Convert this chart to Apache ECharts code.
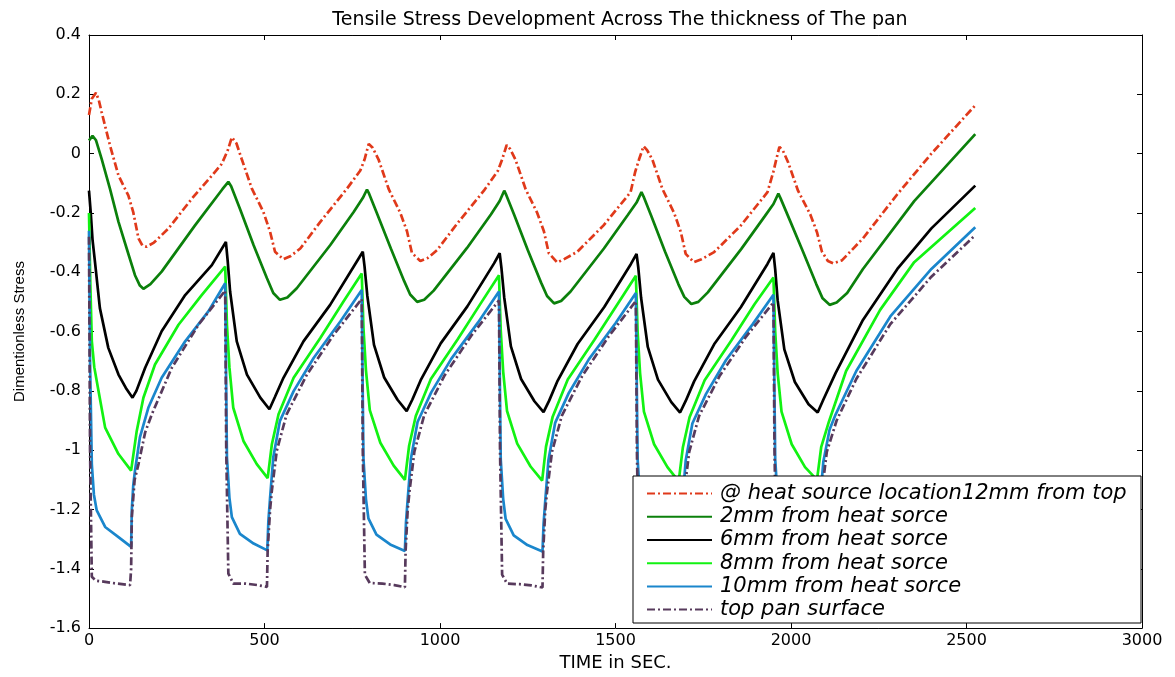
<!DOCTYPE html>
<html>
<head>
<meta charset="utf-8">
<script src="https://cdn.jsdelivr.net/npm/echarts@6/dist/echarts.min.js"></script>
<style>
  html, body { margin: 0; padding: 0; background: #fff; }
  #chart { width: 1175px; height: 677px; }
</style>
</head>
<body>
<div id="chart"></div>
<script>
// Time axis (seconds) and stress axis ticks
const timeTicks = { min: 0, max: 3000, interval: 500 };
const stressTicks = { min: -1.6, max: 0.4, interval: 0.2 };

const seriesNames = [
  '@ heat source location12mm from top',
  '2mm from heat sorce',
  '6mm from heat sorce',
  '8mm from heat sorce',
  '10mm from heat sorce',
  'top pan surface'
];

// [time, dimensionless stress] at the heat source
const heatSource = [
  [0,0.13],[8,0.185],[20,0.205],[28,0.18],[36,0.14],[60,0.027],[84,-0.074],[112,-0.141],
  [126,-0.197],[141,-0.286],[152,-0.31],[164,-0.314],[185,-0.3],[226,-0.253],[293,-0.152],
  [350,-0.074],[378,-0.035],[395,0.01],[407,0.055],[420,0.035],[435,-0.018],[464,-0.118],
  [497,-0.197],[516,-0.264],[530,-0.331],[554,-0.356],[575,-0.345],[602,-0.32],[659,-0.23],
  [735,-0.118],[773,-0.057],[785,-0.02],[797,0.033],[808,0.02],[825,-0.02],[854,-0.12],
  [887,-0.2],[906,-0.262],[920,-0.335],[944,-0.362],[965,-0.352],[992,-0.325],[1049,-0.236],
  [1125,-0.125],[1165,-0.058],[1177,-0.02],[1190,0.029],[1200,0.015],[1215,-0.02],[1244,-0.12],
  [1277,-0.2],[1296,-0.262],[1310,-0.336],[1334,-0.367],[1355,-0.355],[1391,-0.331],[1466,-0.242],
  [1543,-0.13],[1556,-0.062],[1567,-0.02],[1580,0.025],[1590,0.012],[1605,-0.02],[1634,-0.12],
  [1667,-0.2],[1686,-0.264],[1700,-0.338],[1723,-0.366],[1745,-0.356],[1781,-0.332],[1856,-0.244],
  [1933,-0.13],[1950,-0.06],[1958,-0.02],[1967,0.023],[1977,0.01],[1992,-0.03],[2020,-0.125],
  [2055,-0.205],[2074,-0.265],[2088,-0.33],[2105,-0.362],[2120,-0.37],[2145,-0.36],[2205,-0.286],
  [2303,-0.137],[2400,0.0],[2525,0.163]
];

// 2 mm from the heat source
const mm2 = [
  [0,0.044],[10,0.06],[20,0.045],[36,-0.018],[60,-0.12],[84,-0.23],[110,-0.33],[131,-0.41],
  [145,-0.445],[155,-0.456],[175,-0.44],[207,-0.398],[302,-0.242],[380,-0.12],[397,-0.095],
  [405,-0.11],[430,-0.186],[469,-0.309],[507,-0.42],[525,-0.47],[544,-0.493],[565,-0.485],
  [592,-0.454],[687,-0.309],[754,-0.197],[780,-0.15],[792,-0.121],[798,-0.135],[820,-0.2],
  [860,-0.32],[898,-0.43],[915,-0.475],[935,-0.5],[955,-0.493],[982,-0.462],[1077,-0.318],
  [1145,-0.205],[1170,-0.16],[1183,-0.125],[1189,-0.14],[1211,-0.205],[1250,-0.325],[1288,-0.435],
  [1305,-0.48],[1325,-0.505],[1345,-0.497],[1372,-0.465],[1467,-0.32],[1535,-0.207],[1560,-0.165],
  [1574,-0.13],[1580,-0.145],[1602,-0.21],[1641,-0.33],[1679,-0.44],[1696,-0.483],[1716,-0.507],
  [1736,-0.5],[1763,-0.468],[1858,-0.322],[1926,-0.21],[1950,-0.17],[1964,-0.135],[1970,-0.15],
  [1995,-0.22],[2034,-0.33],[2072,-0.44],[2090,-0.488],[2110,-0.51],[2130,-0.502],[2160,-0.47],
  [2205,-0.389],[2351,-0.16],[2525,0.066]
];

// 6 mm from the heat source
const mm6 = [
  [0,-0.125],[5,-0.2],[10,-0.29],[17,-0.365],[31,-0.521],[55,-0.655],[84,-0.745],[105,-0.79],
  [124,-0.823],[135,-0.8],[160,-0.722],[207,-0.599],[274,-0.477],[350,-0.376],[390,-0.298],
  [395,-0.36],[402,-0.465],[421,-0.633],[450,-0.745],[488,-0.823],[514,-0.862],[530,-0.82],
  [554,-0.756],[611,-0.633],[687,-0.51],[763,-0.364],[780,-0.331],[785,-0.38],[793,-0.48],
  [812,-0.645],[841,-0.755],[879,-0.83],[905,-0.868],[921,-0.83],[945,-0.764],[1002,-0.64],
  [1078,-0.515],[1154,-0.37],[1170,-0.336],[1175,-0.385],[1183,-0.485],[1202,-0.65],[1231,-0.76],
  [1269,-0.835],[1295,-0.872],[1311,-0.833],[1335,-0.766],[1392,-0.642],[1468,-0.517],[1544,-0.372],
  [1560,-0.338],[1565,-0.385],[1573,-0.487],[1592,-0.652],[1621,-0.762],[1659,-0.838],[1684,-0.873],
  [1700,-0.834],[1724,-0.768],[1781,-0.643],[1857,-0.518],[1933,-0.372],[1950,-0.335],[1955,-0.39],
  [1962,-0.495],[1981,-0.66],[2011,-0.77],[2050,-0.845],[2076,-0.873],[2092,-0.83],[2127,-0.74],
  [2205,-0.561],[2303,-0.389],[2400,-0.252],[2525,-0.108]
];

// 8 mm from the heat source
const mm8 = [
  [0,-0.2],[4,-0.45],[8,-0.632],[15,-0.72],[27,-0.8],[46,-0.924],[84,-1.013],[120,-1.069],
  [136,-0.935],[155,-0.823],[188,-0.711],[255,-0.577],[321,-0.477],[388,-0.381],[393,-0.577],
  [400,-0.72],[411,-0.857],[440,-0.969],[478,-1.047],[509,-1.094],[521,-0.98],[540,-0.879],
  [583,-0.756],[659,-0.622],[725,-0.499],[777,-0.404],[782,-0.59],[789,-0.73],[800,-0.865],
  [830,-0.975],[868,-1.052],[900,-1.1],[912,-0.985],[931,-0.885],[974,-0.76],[1050,-0.627],
  [1116,-0.505],[1168,-0.41],[1173,-0.595],[1180,-0.735],[1191,-0.868],[1220,-0.978],[1258,-1.055],
  [1291,-1.103],[1302,-0.988],[1321,-0.887],[1364,-0.762],[1440,-0.628],[1506,-0.507],[1558,-0.412],
  [1563,-0.6],[1570,-0.74],[1581,-0.87],[1610,-0.98],[1648,-1.057],[1680,-1.105],[1692,-0.99],
  [1711,-0.889],[1754,-0.764],[1830,-0.63],[1896,-0.508],[1950,-0.418],[1955,-0.6],[1962,-0.74],
  [1973,-0.87],[2002,-0.98],[2040,-1.057],[2074,-1.1],[2086,-0.99],[2108,-0.904],[2157,-0.733],
  [2254,-0.527],[2351,-0.366],[2525,-0.183]
];

// 10 mm from the heat source
const mm10 = [
  [0,-0.26],[3,-0.7],[8,-1.047],[14,-1.15],[22,-1.203],[46,-1.259],[84,-1.293],[120,-1.326],
  [122,-1.2],[126,-1.12],[131,-1.069],[145,-0.957],[169,-0.857],[207,-0.756],[274,-0.633],
  [340,-0.532],[388,-0.437],[391,-0.8],[393,-1.024],[400,-1.16],[407,-1.226],[430,-1.282],
  [469,-1.315],[508,-1.338],[511,-1.24],[516,-1.159],[525,-1.024],[544,-0.901],[583,-0.801],
  [640,-0.689],[716,-0.566],[777,-0.46],[780,-0.82],[782,-1.03],[789,-1.165],[796,-1.23],
  [819,-1.285],[858,-1.318],[900,-1.34],[903,-1.245],[908,-1.165],[917,-1.03],[936,-0.905],
  [975,-0.805],[1032,-0.692],[1108,-0.57],[1168,-0.465],[1171,-0.82],[1173,-1.03],[1180,-1.165],
  [1187,-1.232],[1210,-1.287],[1249,-1.32],[1292,-1.342],[1295,-1.25],[1300,-1.168],[1309,-1.033],
  [1328,-0.908],[1367,-0.807],[1424,-0.694],[1500,-0.572],[1558,-0.47],[1561,-0.82],[1563,-1.03],
  [1570,-1.165],[1577,-1.233],[1600,-1.288],[1639,-1.32],[1683,-1.342],[1686,-1.25],[1691,-1.17],
  [1700,-1.035],[1719,-0.91],[1758,-0.81],[1815,-0.696],[1891,-0.575],[1950,-0.476],[1953,-0.82],
  [1955,-1.03],[1962,-1.165],[1969,-1.233],[1992,-1.288],[2031,-1.32],[2075,-1.342],[2078,-1.25],
  [2083,-1.17],[2092,-1.04],[2110,-0.93],[2127,-0.88],[2186,-0.733],[2283,-0.549],[2400,-0.389],
  [2525,-0.248]
];

// Top surface of the pan
const topSurface = [
  [0,-0.28],[3,-1.0],[8,-1.427],[20,-1.44],[46,-1.444],[80,-1.45],[117,-1.455],[120,-1.4],
  [122,-1.226],[130,-1.1],[141,-1.047],[160,-0.94],[179,-0.879],[236,-0.722],[312,-0.577],
  [388,-0.462],[391,-1.0],[397,-1.416],[411,-1.45],[447,-1.45],[480,-1.455],[507,-1.461],
  [509,-1.338],[516,-1.2],[521,-1.136],[535,-1.002],[563,-0.879],[621,-0.745],[697,-0.611],
  [777,-0.49],[780,-1.0],[786,-1.42],[800,-1.448],[836,-1.45],[870,-1.455],[900,-1.462],
  [902,-1.34],[908,-1.2],[913,-1.14],[927,-1.005],[955,-0.882],[1013,-0.748],[1089,-0.614],
  [1168,-0.495],[1171,-1.0],[1177,-1.42],[1191,-1.45],[1227,-1.452],[1260,-1.456],[1292,-1.463],
  [1294,-1.34],[1300,-1.2],[1305,-1.14],[1319,-1.006],[1347,-0.884],[1405,-0.75],[1481,-0.616],
  [1558,-0.497],[1561,-1.0],[1567,-1.42],[1581,-1.45],[1617,-1.452],[1650,-1.456],[1683,-1.463],
  [1685,-1.34],[1691,-1.2],[1696,-1.14],[1710,-1.006],[1738,-0.885],[1796,-0.751],[1872,-0.617],
  [1950,-0.502],[1953,-1.0],[1959,-1.42],[1973,-1.45],[2009,-1.452],[2042,-1.456],[2075,-1.463],
  [2077,-1.34],[2083,-1.2],[2088,-1.14],[2102,-1.006],[2130,-0.9],[2186,-0.76],[2283,-0.575],
  [2400,-0.415],[2525,-0.275]
];

const seriesData = [heatSource, mm2, mm6, mm8, mm10, topSurface];
const seriesColors = ['#e0391a', '#0b800b', '#000000', '#12f212', '#1a86cc', '#573a5c'];
const dashDot = [8, 3, 2, 3];
const lineTypes = [dashDot, 'solid', 'solid', 'solid', 'solid', dashDot];

const chart = echarts.init(document.getElementById('chart'), null, { renderer: 'canvas' });

const axisColor = '#000';
const tickFont = { fontFamily: 'DejaVu Sans', fontSize: 16, color: '#000' };
const boxLine = { show: true, onZero: false, lineStyle: { color: axisColor, width: 1 } };
const inTicks = { show: true, inside: true, length: 5, lineStyle: { color: axisColor } };
// plain numbers: no thousands separator, no float noise
const plainNumber = v => String(Math.round(v * 10) / 10);

const option = {
  animation: false,
  backgroundColor: '#fff',
  title: {
    text: 'Tensile Stress Development Across The thickness of The pan',
    left: 615, top: 6, textAlign: 'center',
    textStyle: { fontFamily: 'DejaVu Sans', fontSize: 19, fontWeight: 'normal', color: '#000' }
  },
  grid: { left: 89, right: 33, top: 35, bottom: 45, containLabel: false },
  xAxis: [
    {
      type: 'value', position: 'bottom',
      min: timeTicks.min, max: timeTicks.max, interval: timeTicks.interval,
      name: 'TIME in SEC.', nameLocation: 'middle', nameGap: 19,
      nameTextStyle: { fontFamily: 'DejaVu Sans', fontSize: 18, color: '#000' },
      axisLine: boxLine, axisTick: inTicks,
      axisLabel: Object.assign({ margin: 5, formatter: plainNumber }, tickFont),
      splitLine: { show: false }
    },
    {
      type: 'value', position: 'top',
      min: timeTicks.min, max: timeTicks.max, interval: timeTicks.interval,
      axisLine: boxLine, axisTick: inTicks,
      axisLabel: { show: false },
      splitLine: { show: false }
    }
  ],
  yAxis: [
    {
      type: 'value', position: 'left',
      min: stressTicks.min, max: stressTicks.max, interval: stressTicks.interval,
      name: 'Dimentionless Stress', nameLocation: 'middle', nameGap: 62, nameRotate: 90,
      nameTextStyle: { fontFamily: 'Liberation Sans', fontSize: 15, color: '#000' },
      axisLine: boxLine, axisTick: inTicks,
      axisLabel: Object.assign({ margin: 8, formatter: plainNumber }, tickFont),
      splitLine: { show: false }
    },
    {
      type: 'value', position: 'right',
      min: stressTicks.min, max: stressTicks.max, interval: stressTicks.interval,
      axisLine: boxLine, axisTick: inTicks,
      axisLabel: { show: false },
      splitLine: { show: false }
    }
  ],
  graphic: [
    {
      type: 'rect', z: 3, silent: true,
      shape: { x: 633, y: 476, width: 508, height: 147 },
      style: { fill: '#fff', stroke: '#000', lineWidth: 1 }
    }
  ],
  legend: {
    orient: 'vertical', left: 646, top: 482, z: 5,
    padding: 0, itemGap: 0, itemWidth: 65, itemHeight: 14,
    backgroundColor: 'transparent',
    itemStyle: { color: 'rgba(0,0,0,0)', borderColor: 'rgba(0,0,0,0)', borderWidth: 0 },
    textStyle: {
      fontFamily: 'DejaVu Sans', fontStyle: 'italic', fontSize: 21, color: '#000',
      lineHeight: 23.2, padding: [0, 0, 0, 3]
    },
    data: seriesNames
  },
  series: seriesNames.map((name, i) => ({
    name: name,
    type: 'line',
    xAxisIndex: 0, yAxisIndex: 0,
    data: seriesData[i],
    symbol: 'none',
    smooth: false,
    z: 2,
    lineStyle: { color: seriesColors[i], width: 2.7, type: lineTypes[i] },
    itemStyle: { color: seriesColors[i] }
  }))
};

chart.setOption(option);
</script>
</body>
</html>
